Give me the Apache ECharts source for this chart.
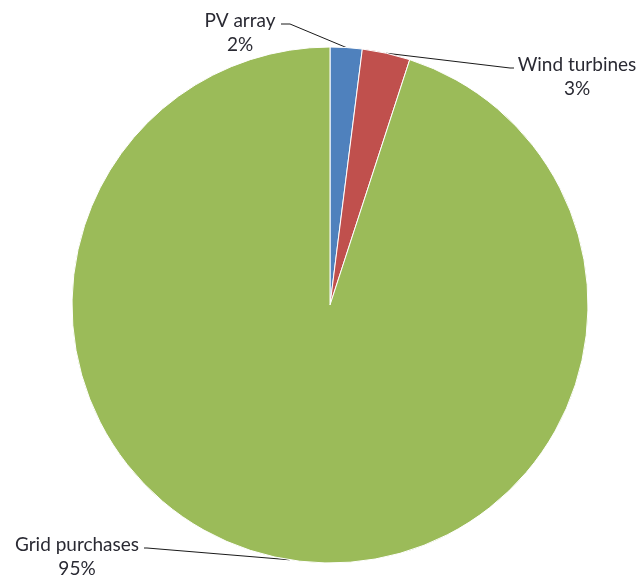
<!DOCTYPE html>
<html>
<head>
<meta charset="utf-8">
<script src="https://cdn.jsdelivr.net/npm/echarts@6/dist/echarts.min.js"></script>
<style>
  html, body { margin: 0; padding: 0; background: #fff; }
  #chart { width: 638px; height: 578px; }
</style>
</head>
<body>
<div id="chart"></div>
<script>
// Energy supply shares
const sources = ['PV array', 'Wind turbines', 'Grid purchases'];
const shares = [2, 3, 95];
const colors = ['#4F81BD', '#C0504D', '#9BBB59'];

// Where each label block sits and where its leader line meets the text
const labelSpots = {
  'PV array':       { x: 240, y: 33,  end: [290, 24], bend: [281, 24] },
  'Wind turbines':  { x: 577, y: 77,  end: [510, 68], bend: [514, 68] },
  'Grid purchases': { x: 77,  y: 557, end: [147, 548], bend: [144, 548] }
};

const chart = echarts.init(document.getElementById('chart'), null, { renderer: 'canvas' });

chart.setOption({
  animation: false,
  backgroundColor: '#ffffff',
  series: [{
    type: 'pie',
    center: [330, 305],
    radius: 258,
    startAngle: 90,
    clockwise: true,
    avoidLabelOverlap: false,
    percentPrecision: 0,
    data: sources.map((name, i) => ({
      name: name,
      value: shares[i],
      itemStyle: { color: colors[i] }
    })),
    itemStyle: { borderColor: '#ffffff', borderWidth: 1 },
    label: {
      show: true,
      position: 'outside',
      formatter: '{b}\n{d}%',
      fontFamily: 'Lato, "Open Sans", sans-serif',
      fontSize: 19,
      lineHeight: 24,
      color: '#2a2a33',
      align: 'center'
    },
    labelLine: {
      show: true,
      length: 10,
      length2: 10,
      lineStyle: { color: '#1a1a1a', width: 1 }
    },
    labelLayout: function (params) {
      const spot = labelSpots[sources[params.dataIndex]];
      const start = params.labelLinePoints ? params.labelLinePoints[0] : null;
      const out = {
        x: spot.x,
        y: spot.y,
        align: 'center',
        verticalAlign: 'middle'
      };
      if (start) {
        out.labelLinePoints = [start, spot.end, spot.bend];
      }
      return out;
    },
    emphasis: { disabled: true }
  }]
});
</script>
</body>
</html>
